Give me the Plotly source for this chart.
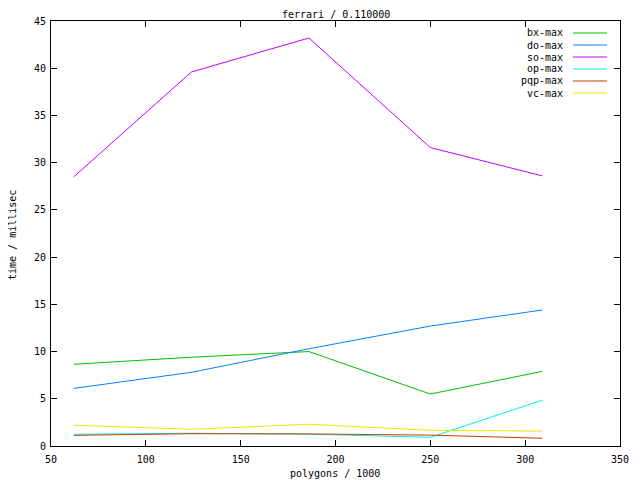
import plotly.graph_objects as go

polygons = [62, 124, 186, 250, 309]
series_names = ["bx-max", "do-max", "so-max", "op-max", "pqp-max", "vc-max"]
bx_max = [8.65, 9.4, 10.0, 5.5, 7.9]
do_max = [6.1, 7.8, 10.3, 12.7, 14.4]
so_max = [28.5, 39.6, 43.2, 31.6, 28.6]
op_max = [1.24, 1.35, 1.25, 0.92, 4.85]
pqp_max = [1.13, 1.3, 1.28, 1.15, 0.82]
vc_max = [2.2, 1.77, 2.3, 1.66, 1.58]
colors = ["#00c000", "#0080ff", "#c000ff", "#00eeee", "#c04000", "#e8e800"]
x_ticks = [50, 100, 150, 200, 250, 300, 350]
y_ticks = [0, 5, 10, 15, 20, 25, 30, 35, 40, 45]

values = [bx_max, do_max, so_max, op_max, pqp_max, vc_max]
FONT = "DejaVu Sans Mono"
OFF = 8  # page body margin offset
L, R, T, B = 51, 620, 21, 446  # target page pixel bounds of plot area
PW, PH = R - L, B - T

fig = go.Figure()
for name, vals, col in zip(series_names, values, colors):
    fig.add_trace(go.Scatter(x=polygons, y=vals, mode="lines", name=name,
                             line=dict(color=col, width=1), showlegend=False))

annotations = []
shapes = []
for i, (name, col) in enumerate(zip(series_names, colors)):
    ypx = 33 + i * 12
    yp = 1 - (ypx - T) / PH
    annotations.append(dict(x=(565 - L) / PW, y=yp, xref="paper", yref="paper",
                            text=name, showarrow=False, xanchor="right", yanchor="middle",
                            font=dict(family=FONT, size=10, color="black")))
    shapes.append(dict(type="line", xref="paper", yref="paper",
                       x0=(573 - L) / PW, x1=(607 - L) / PW, y0=yp, y1=yp,
                       line=dict(color=col, width=1)))

annotations.append(dict(x=0.5, y=1 + (T - 14) / PH, xref="paper", yref="paper",
                        text="ferrari / 0.110000", showarrow=False, xanchor="center",
                        yanchor="middle", font=dict(family=FONT, size=10, color="black")))
annotations.append(dict(x=(335 - L) / PW, y=-(473 - B) / PH, xref="paper", yref="paper",
                        text="polygons / 1000", showarrow=False, xanchor="center",
                        yanchor="middle", font=dict(family=FONT, size=10, color="black")))
annotations.append(dict(x=-(L - 12) / PW, y=1 - (235 - T) / PH, xref="paper", yref="paper",
                        text="time / millisec", showarrow=False, xanchor="center",
                        yanchor="middle", textangle=-90,
                        font=dict(family=FONT, size=10, color="black")))

fig.update_layout(
    width=640, height=480,
    margin=dict(l=L - OFF, r=640 - (R - OFF), t=T - OFF, b=480 - (B - OFF), autoexpand=False),
    plot_bgcolor="white", paper_bgcolor="white",
    font=dict(family=FONT, size=10, color="black"),
    annotations=annotations, shapes=shapes,
    xaxis=dict(range=[50, 350], tickvals=x_ticks, ticktext=[str(v) for v in x_ticks],
               showgrid=False, zeroline=False, showline=True, linecolor="black", linewidth=1,
               mirror="ticks", ticks="inside", ticklen=6, tickcolor="black",
               automargin=False, ticklabelstandoff=4),
    yaxis=dict(range=[0, 45], tickvals=y_ticks, ticktext=[str(v) for v in y_ticks],
               showgrid=False, zeroline=False, showline=True, linecolor="black", linewidth=1,
               mirror="ticks", ticks="inside", ticklen=6, tickcolor="black",
               automargin=False, ticklabelstandoff=2),
)

fig.write_html("out.html")
